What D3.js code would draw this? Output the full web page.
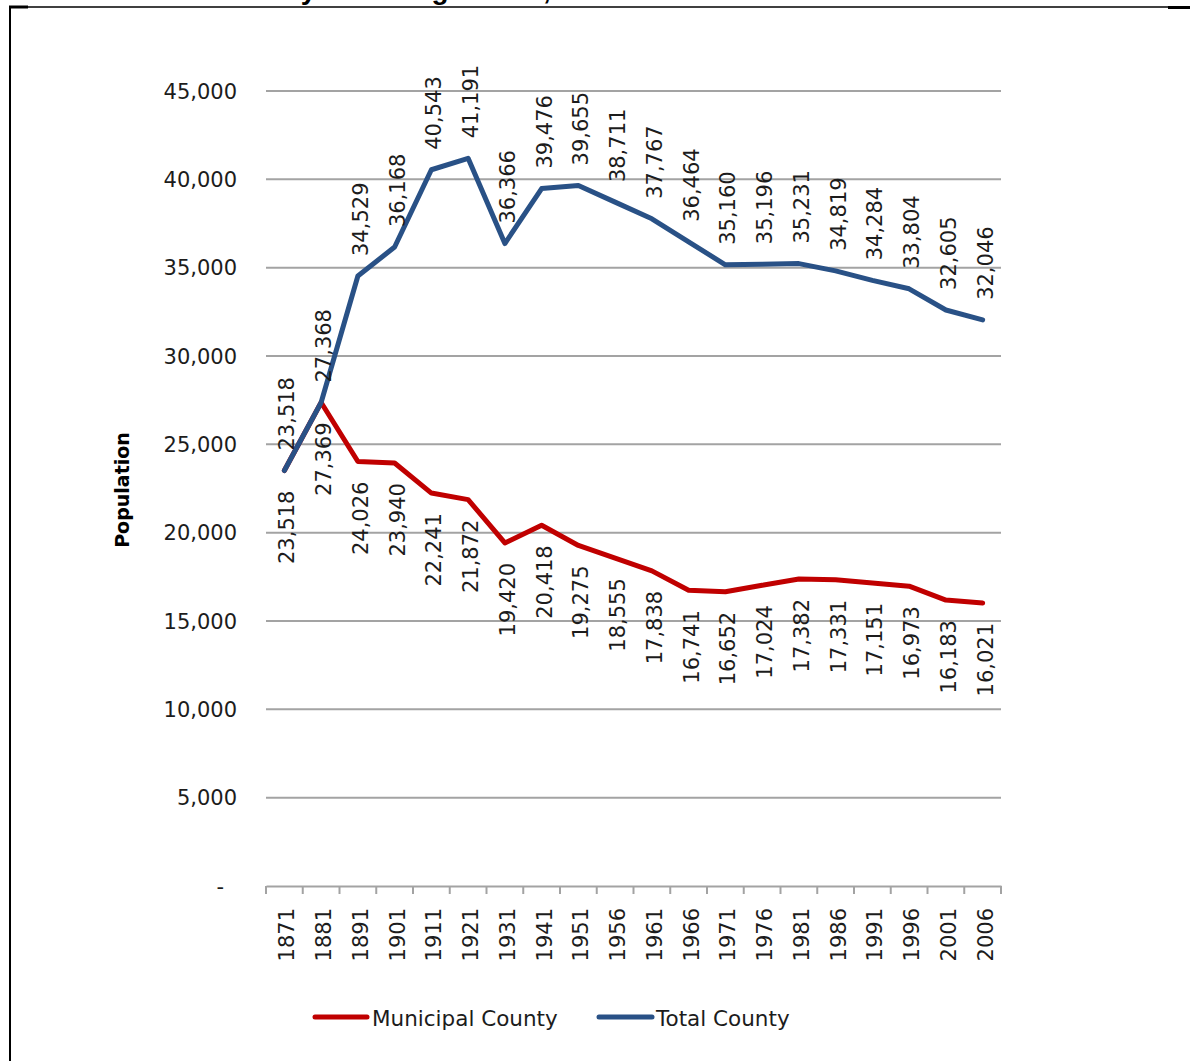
<!DOCTYPE html>
<html>
<head>
<meta charset="utf-8">
<script src="https://cdn.jsdelivr.net/npm/d3@7"></script>
<style>
  body { margin: 0; background: #fff; }
  svg { display: block; }
</style>
</head>
<body>
<svg id="chart" width="1190" height="1061"></svg>
<script>
// Census years (category axis)
const years = ["1871", "1881", "1891", "1901", "1911", "1921", "1931", "1941", "1951", "1956",
               "1961", "1966", "1971", "1976", "1981", "1986", "1991", "1996", "2001", "2006"];

// Population, whole county
const totalCounty = [23518, 27368, 34529, 36168, 40543, 41191, 36366, 39476, 39655, 38711,
                     37767, 36464, 35160, 35196, 35231, 34819, 34284, 33804, 32605, 32046];

// Population, municipal county (excluding towns)
const municipalCounty = [23518, 27369, 24026, 23940, 22241, 21872, 19420, 20418, 19275, 18555,
                         17838, 16741, 16652, 17024, 17382, 17331, 17151, 16973, 16183, 16021];

// Value axis ticks
const yTicks = [0, 5000, 10000, 15000, 20000, 25000, 30000, 35000, 40000, 45000];

const titleText = "County Including Towns, 1871-2006";
const yAxisTitle = "Population";

const series = [
  { name: "Municipal County", values: municipalCounty, color: "#c00000", labelSide: "below" },
  { name: "Total County",     values: totalCounty,     color: "#295186", labelSide: "above" }
];

const svg = d3.select("#chart");
const W = 1190, H = 1061;
const FONT = "'DejaVu Sans', Verdana, sans-serif";
const TEXT = "#1c1c1c";
const GRID = "#a3a3a3";
const FS = 21;

svg.append("rect").attr("width", W).attr("height", H).attr("fill", "#fff");

// Page frame around the figure
const frame = svg.append("g").attr("stroke", "#000").attr("fill", "none");
frame.append("line").attr("x1", 10).attr("x2", 1170).attr("y1", 7).attr("y2", 7).attr("stroke-width", 1.5);
frame.append("line").attr("x1", 9).attr("x2", 28).attr("y1", 7).attr("y2", 7).attr("stroke-width", 3);
frame.append("line").attr("x1", 1168).attr("x2", 1190).attr("y1", 7.5).attr("y2", 7.5).attr("stroke-width", 3);
frame.append("line").attr("x1", 10).attr("x2", 10).attr("y1", 6).attr("y2", H).attr("stroke-width", 2);

// Title line running off the top of the page
svg.append("text")
  .attr("x", 220).attr("y", -1)
  .attr("font-family", "'Liberation Sans', Arial, sans-serif")
  .attr("font-weight", "bold")
  .attr("font-size", 28)
  .attr("fill", "#000")
  .text(titleText);

// Scales
const x = d3.scaleBand().domain(years).range([266, 1001]).paddingInner(0).paddingOuter(0);
const y = d3.scaleLinear().domain([0, 45000]).range([886, 91]);
const cx = d => x(d) + x.bandwidth() / 2;

// Horizontal gridlines
svg.append("g")
  .selectAll("line")
  .data(yTicks.filter(t => t > 0))
  .join("line")
  .attr("x1", 266).attr("x2", 1001)
  .attr("y1", d => y(d)).attr("y2", d => y(d))
  .attr("stroke", GRID).attr("stroke-width", 2);

// Value axis labels
const fmt = d3.format(",");
svg.append("g")
  .selectAll("text")
  .data(yTicks)
  .join("text")
  .attr("x", d => d === 0 ? 224 : 237)
  .attr("y", d => y(d))
  .attr("dy", "0.36em")
  .attr("text-anchor", "end")
  .attr("font-family", FONT)
  .attr("font-size", FS)
  .attr("fill", TEXT)
  .text(d => d === 0 ? "-" : fmt(d));

// Category axis: baseline with tick marks at category boundaries
const xAxis = d3.axisBottom(x).tickSize(0).tickFormat("");
const gx = svg.append("g").attr("transform", "translate(0,886)").call(xAxis);
gx.select(".domain").attr("stroke", GRID).attr("stroke-width", 2);
gx.selectAll(".tick").remove();
const boundaries = years.map(d => x(d)).concat([x(years[years.length - 1]) + x.bandwidth()]);
gx.selectAll("line.bound")
  .data(boundaries)
  .join("line")
  .attr("class", "bound")
  .attr("x1", d => d).attr("x2", d => d)
  .attr("y1", 0).attr("y2", 8)
  .attr("stroke", GRID).attr("stroke-width", 2);

// Category labels, rotated
svg.append("g")
  .selectAll("text")
  .data(years)
  .join("text")
  .attr("transform", d => `translate(${cx(d)},908) rotate(-90)`)
  .attr("text-anchor", "end")
  .attr("dominant-baseline", "central")
  .attr("dy", 3)
  .attr("font-family", FONT)
  .attr("font-size", FS)
  .attr("fill", TEXT)
  .text(d => d);

// Axis title
svg.append("text")
  .attr("transform", "translate(122,490) rotate(-90)")
  .attr("text-anchor", "middle")
  .attr("dominant-baseline", "central")
  .attr("font-family", FONT)
  .attr("font-weight", "bold")
  .attr("font-size", 19)
  .attr("fill", "#000")
  .text(yAxisTitle);

// Series lines
const line = d3.line()
  .x((d, i) => cx(years[i]))
  .y(d => y(d));

const plot = svg.append("g");
series.forEach(s => {
  plot.append("path")
    .datum(s.values)
    .attr("d", line)
    .attr("fill", "none")
    .attr("stroke", s.color)
    .attr("stroke-width", 5)
    .attr("stroke-linejoin", "round")
    .attr("stroke-linecap", "round");
});

// Data labels, rotated; total above the line, municipal below
series.forEach(s => {
  svg.append("g")
    .selectAll("text")
    .data(s.values)
    .join("text")
    .attr("transform", (d, i) => {
      const py = s.labelSide === "above" ? y(d) - 20 : y(d) + 20;
      return `translate(${cx(years[i])},${py}) rotate(-90)`;
    })
    .attr("text-anchor", s.labelSide === "above" ? "start" : "end")
    .attr("dominant-baseline", "central")
    .attr("dy", 3)
    .attr("font-family", FONT)
    .attr("font-size", FS)
    .attr("fill", TEXT)
    .text(d => fmt(d));
});

// Legend
const legendItems = [
  { name: series[0].name, color: series[0].color, x1: 315, x2: 367, tx: 372 },
  { name: series[1].name, color: series[1].color, x1: 599, x2: 652, tx: 656 }
];
const lg = svg.append("g");
legendItems.forEach(it => {
  lg.append("line")
    .attr("x1", it.x1).attr("x2", it.x2)
    .attr("y1", 1017).attr("y2", 1017)
    .attr("stroke", it.color).attr("stroke-width", 5)
    .attr("stroke-linecap", "round");
  lg.append("text")
    .attr("x", it.tx).attr("y", 1018)
    .attr("dy", "0.36em")
    .attr("font-family", FONT)
    .attr("font-size", 21.5)
    .attr("fill", TEXT)
    .text(it.name);
});
</script>
</body>
</html>
